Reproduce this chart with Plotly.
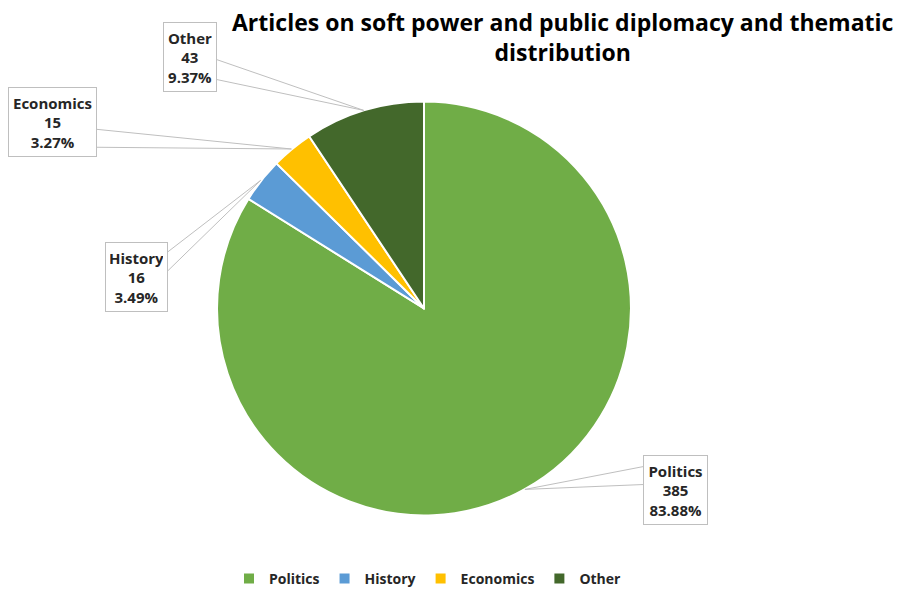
import math
import plotly.graph_objects as go

# Thematic distribution of articles
categories = ["Politics", "History", "Economics", "Other"]
counts = [385, 16, 15, 43]
colors = ["#70AD47", "#5B9BD5", "#FFC000", "#43682B"]

W, H = 900, 595
CX, CY, R = 424, 310, 208  # pie centre and radius in pixels

# callout boxes (left, top, right, bottom) in pixels and the side the leader leaves from
callouts = {
    "Politics": ((643, 457, 708, 527), "left", (469, 487)),
    "History": ((105, 243, 168, 313), "right", (253, 272)),
    "Economics": ((8, 88, 97, 158), "right", (130, 148)),
    "Other": ((163, 22, 217, 92), "right", (60, 80)),
}

FONT = "Open Sans"

def px(x):
    return x / W

def py(y):
    return 1 - y / H

total = sum(counts)

fig = go.Figure(
    go.Pie(
        labels=categories,
        values=counts,
        sort=False,
        direction="clockwise",
        rotation=0,
        marker=dict(colors=colors, line=dict(color="white", width=2)),
        textinfo="none",
        hoverinfo="label+value+percent",
        domain=dict(x=[px(CX - R), px(CX + R)], y=[py(CY + R), py(CY - R)]),
    )
)

shapes = []
annotations = []
cum = 0
for cat, val in zip(categories, counts):
    mid = (cum + val / 2) / total * 2 * math.pi
    cum += val
    ax = CX + R * math.sin(mid)
    ay = CY - R * math.cos(mid)
    (l, t, r, b), side, (y1, y2) = callouts[cat]
    ex = l if side == "left" else r
    for yy in (y1, y2):
        shapes.append(dict(type="line", xref="paper", yref="paper",
                           x0=px(ex), y0=py(yy), x1=px(ax), y1=py(ay),
                           line=dict(color="#BFBFBF", width=1)))
    pct = f"{val / total * 100:.2f}%"
    annotations.append(dict(
        xref="paper", yref="paper",
        x=px((l + r) / 2), y=py((t + b) / 2),
        xanchor="center", yanchor="middle",
        text=f"<b>{cat}<br>{val}<br>{pct}</b>",
        showarrow=False,
        width=(r - l) - 10, height=(b - t) - 10,
        borderpad=4, borderwidth=1, bordercolor="#BFBFBF", bgcolor="white",
        font=dict(family=FONT, size=15, color="#262626"),
        align="center",
    ))

annotations.append(dict(
    xref="paper", yref="paper", x=px(563), y=py(4), xanchor="center", yanchor="top",
    text="<b>Articles on soft power and public diplomacy and thematic<br>distribution</b>",
    showarrow=False, font=dict(family=FONT, size=23, color="#000000"),
))

fig.update_layout(
    width=W, height=H,
    margin=dict(l=0, r=0, t=0, b=0),
    paper_bgcolor="white",
    plot_bgcolor="white",
    shapes=shapes,
    annotations=annotations,
    showlegend=True,
    legend=dict(orientation="h", x=px(428), y=py(582), xanchor="center", yanchor="middle",
                font=dict(family=FONT, size=14, color="#262626", weight="bold"),
                itemwidth=30, traceorder="normal"),
)

fig.write_html("out.html")
